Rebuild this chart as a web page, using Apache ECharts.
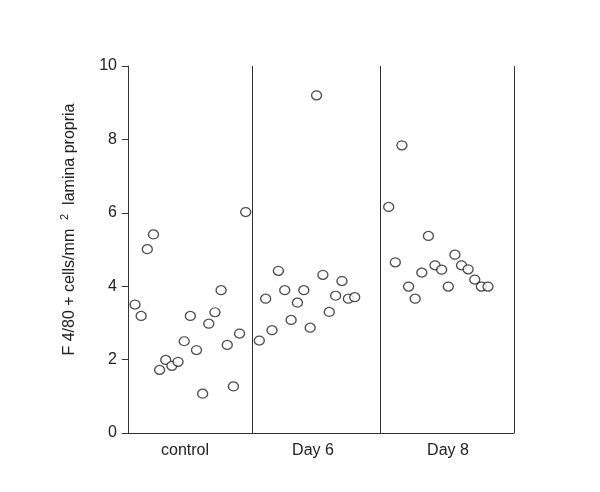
<!DOCTYPE html>
<html>
<head>
<meta charset="utf-8">
<script src="https://cdn.jsdelivr.net/npm/echarts@6/dist/echarts.min.js"></script>
<style>html,body{margin:0;padding:0;background:#fff;}#c{width:600px;height:492px;}</style>
</head>
<body>
<div id="c"></div>
<script>
// ---- data ----
var categories = ['control', 'Day 6', 'Day 8'];
var controlValues = [3.50, 3.19, 5.01, 5.41, 1.72, 1.99, 1.83, 1.94, 2.50, 3.19, 2.26, 1.07, 2.98, 3.29, 3.89, 2.40, 1.27, 2.71, 6.02];
var day6Values = [2.52, 3.66, 2.80, 4.42, 3.89, 3.08, 3.55, 3.89, 2.87, 9.20, 4.31, 3.30, 3.74, 4.14, 3.66, 3.70];
var day8Values = [6.16, 4.65, 7.84, 3.99, 3.66, 4.37, 5.37, 4.57, 4.45, 3.99, 4.86, 4.57, 4.46, 4.18, 3.99, 3.99];
var yTicks = [0, 2, 4, 6, 8, 10];

// ---- layout of the horizontal (group) axis ----
var groupBounds = [0, 124.3, 252.7, 386];   // group edges in x-axis units
var firstOffset = [7, 7, 8];                 // first point offset inside group
var pointStep = [6.15, 6.36, 6.62];          // spacing between successive points
var groups = [controlValues, day6Values, day8Values];

var data = [];
groups.forEach(function (vals, g) {
  vals.forEach(function (v, i) {
    data.push([groupBounds[g] + firstOffset[g] + i * pointStep[g], v]);
  });
});
var labelCenters = [57, 185, 320];

var chart = echarts.init(document.getElementById('c'), null, {renderer: 'canvas'});
var font = 'Liberation Sans, Arial, sans-serif';
chart.setOption({
  animation: false,
  backgroundColor: '#fff',
  grid: {left: 128, right: 86, top: 66, bottom: 59},
  xAxis: {
    type: 'value', min: groupBounds[0], max: groupBounds[3],
    axisLine: {show: true, onZero: false, lineStyle: {color: '#333', width: 1}},
    axisTick: {show: false},
    splitLine: {show: false},
    axisLabel: {
      customValues: labelCenters,
      formatter: function (v) {
        var idx = labelCenters.indexOf(v);
        return idx >= 0 ? categories[idx] : '';
      },
      color: '#222', fontSize: 16, fontFamily: font, margin: 10
    }
  },
  yAxis: {
    type: 'value', min: yTicks[0], max: yTicks[yTicks.length - 1], interval: 2,
    name: '{a|F 4/80 + cells/mm  }{s|2}{a|  lamina propria}',
    nameLocation: 'middle', nameGap: 47,
    nameTextStyle: {
      padding: [0, 0, 0, 40],
      rich: {
        a: {fontSize: 16, fontFamily: font, color: '#222', lineHeight: 22},
        s: {fontSize: 11, fontFamily: font, color: '#222', verticalAlign: 'top', lineHeight: 12}
      }
    },
    axisLine: {show: true, lineStyle: {color: '#333', width: 1}},
    axisTick: {show: true, inside: false, length: 6, lineStyle: {color: '#333'}},
    splitLine: {show: false},
    axisLabel: {color: '#222', fontSize: 16, fontFamily: font, margin: 11}
  },
  series: [{
    type: 'scatter',
    data: data,
    symbol: 'circle',
    symbolSize: [10, 9],
    itemStyle: {color: '#fff', borderColor: '#222', borderWidth: 1.3},
    markLine: {
      silent: true, symbol: 'none', label: {show: false},
      lineStyle: {color: '#333', width: 1, type: 'solid'},
      data: groupBounds.slice(1).map(function (b) { return {xAxis: b}; })
    }
  }]
});
</script>
</body>
</html>
